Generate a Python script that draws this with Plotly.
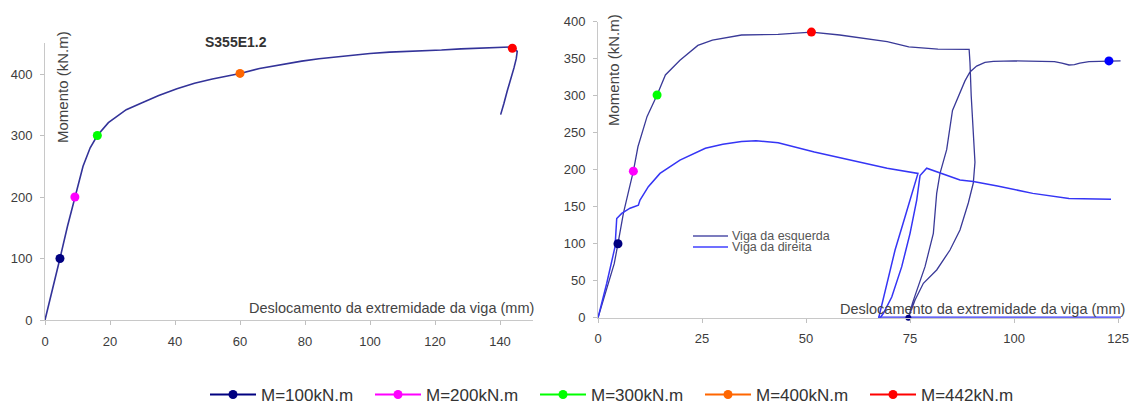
import plotly.graph_objects as go

W, H = 1131, 413
FONT = "Liberation Sans, Arial, sans-serif"

# ---------------- data ----------------
# Left chart: S355E1.2
left_x = [0, 2.3, 4.6, 6.9, 9.2, 11.7, 13.9, 16.1, 19.5, 22.0, 25.0, 29.7, 35.0, 40.6,
          46.0, 51.5, 56.0, 60.0, 66.0, 73.4, 79.0, 84.3, 90.0, 95.2, 100.0, 106.0,
          112.0, 117.0, 122.0, 128.0, 134.0, 139.0, 143.8, 145.3, 145.0, 144.3, 143.3,
          142.2, 141.2, 140.2]
left_y = [0, 48, 100, 152, 200, 250, 280, 300, 321, 331, 342, 353, 365, 376,
          385, 392, 397, 401, 409, 416, 421, 425, 428.5, 431, 433.5, 435.6,
          436.5, 437.7, 439, 441, 442, 443, 444, 437, 425, 410, 393,
          372, 352, 334]

# Right chart: Viga da esquerda
re_x = [0, 2.2, 3.9, 4.8, 6.1, 7.4, 8.5, 9.6, 11.8, 14.2, 16.2, 19.7, 24.0, 27.5, 34.5,
        43.3, 51.3, 58.1, 63.0, 69.5, 74.7, 81.7, 89.2, 89.4, 89.7, 90.1, 90.6, 90.2,
        89.0, 87.0, 84.6, 81.4, 78.2, 76.2, 74.6, 75.6, 76.6, 78.6, 80.6, 81.4, 82.2,
        83.8, 85.2, 87.0, 88.2, 89.4, 91.0, 93.0, 95.0, 100.0, 104.5, 109.7, 111.5,
        113.2, 114.5, 115.8, 118.0, 122.8, 125.6]
re_y = [0, 42, 73, 100, 141, 172, 198, 231, 272, 301, 328, 348, 368, 375, 382,
        383, 386, 382, 378, 373, 366, 363, 362.6, 345, 300, 250, 210, 182,
        155, 118.5, 91.5, 64.5, 46.5, 24, 0, 20, 37, 69, 114, 168, 195,
        227, 280, 305, 320, 332, 340, 345, 346.5, 347, 347, 346, 344,
        341.5, 342, 344, 346, 347, 347]

# Right chart: Viga da direita
rd_x = [0, 2.1, 4.1, 4.5, 5.7, 7.7, 9.7, 10.1, 12.1, 14.9, 19.7, 25.8, 30.0, 34.5, 38.0,
        43.3, 52.0, 60.8, 69.5, 76.9, 75.4, 73.8, 71.4, 69.4, 67.4, 67.3, 68.6, 70.6,
        73.0, 75.0, 76.6, 77.4, 79.0, 82.4, 87.0, 90.2, 96.0, 104.5, 113.2, 123.3]
rd_y = [0, 46.5, 96, 134, 141, 148, 152, 159, 177, 195, 213, 229, 234.5, 238, 239,
        236.5, 224, 213, 202, 195, 168, 136.5, 91.5, 46.5, 1.4, -4, 6, 28,
        69, 114, 159, 192, 202, 195, 186, 184, 178, 168, 161, 160]
rd_base_x = [67.3, 125.8]
rd_base_y = [0, 0]

# Highlighted moments
m_labels = ["M=100kN.m", "M=200kN.m", "M=300kN.m", "M=400kN.m", "M=442kN.m"]
m_colors = ["#000080", "#ff00ff", "#00ff00", "#ff6600", "#ff0000"]
left_mx = [4.6, 9.2, 16.1, 60.0, 143.8]
left_my = [100, 200, 300, 401, 442]
right_mx = [4.8, 8.5, 14.2, None, 51.3]
right_my = [100, 198, 301, None, 386]
extra_x = [122.8]
extra_y = [347]
end_x = [74.6, 67.3]
end_y = [0, -3]
end_colors = ["#000080", "#2020ff"]

left_xticks = [0, 20, 40, 60, 80, 100, 120, 140]
left_yticks = [0, 100, 200, 300, 400]
right_xticks = [0, 25, 50, 75, 100, 125]
right_yticks = [0, 50, 100, 150, 200, 250, 300, 350, 400]

series_names = ["Viga da esquerda", "Viga da direita"]
left_title = "S355E1.2"
y_title = "Momento (kN.m)"
x_title = "Deslocamento da extremidade da viga (mm)"

# ---------------- figure ----------------
def PX(x):
    return x / W

def PY(y):
    return 1 - y / H

C_LEFT = "#333399"
C_ESQ = "#3a3a98"
C_DIR = "#3535f5"

fig = go.Figure()

fig.add_trace(go.Scatter(x=left_x, y=left_y, mode="lines", line=dict(color=C_LEFT, width=1.6),
                         showlegend=False, xaxis="x", yaxis="y", hoverinfo="skip"))

fig.add_trace(go.Scatter(x=re_x, y=re_y, mode="lines", line=dict(color=C_ESQ, width=1.3),
                         showlegend=False, xaxis="x2", yaxis="y2", hoverinfo="skip"))
fig.add_trace(go.Scatter(x=rd_x, y=rd_y, mode="lines", line=dict(color=C_DIR, width=1.5),
                         showlegend=False, xaxis="x2", yaxis="y2", cliponaxis=False, hoverinfo="skip"))
fig.add_trace(go.Scatter(x=rd_base_x, y=rd_base_y, mode="lines", line=dict(color=C_DIR, width=2.6),
                         showlegend=False, xaxis="x2", yaxis="y2", cliponaxis=False, hoverinfo="skip"))
fig.add_trace(go.Scatter(x=end_x, y=end_y, mode="markers",
                         marker=dict(color=end_colors, size=6),
                         showlegend=False, xaxis="x2", yaxis="y2", cliponaxis=False, hoverinfo="skip"))

for i, lab in enumerate(m_labels):
    fig.add_trace(go.Scatter(x=[left_mx[i]], y=[left_my[i]], mode="lines+markers", name=lab,
                             line=dict(color=m_colors[i], width=2),
                             marker=dict(color=m_colors[i], size=9),
                             xaxis="x", yaxis="y", cliponaxis=False, hoverinfo="skip"))
    if right_mx[i] is not None:
        fig.add_trace(go.Scatter(x=[right_mx[i]], y=[right_my[i]], mode="markers",
                                 marker=dict(color=m_colors[i], size=9), showlegend=False,
                                 xaxis="x2", yaxis="y2", cliponaxis=False, hoverinfo="skip"))

fig.add_trace(go.Scatter(x=extra_x, y=extra_y, mode="markers", marker=dict(color="#0000ff", size=9),
                         showlegend=False, xaxis="x2", yaxis="y2", cliponaxis=False, hoverinfo="skip"))

axis_common = dict(showline=True, linecolor="#c8c8c8", linewidth=1, showgrid=False, zeroline=False,
                   ticks="outside", ticklen=4, tickcolor="#c0c0c0",
                   tickfont=dict(family=FONT, size=13, color="#3c3c3c"), automargin=False,
                   fixedrange=True)
xstand = dict(ticklabelstandoff=5)
ystand = dict(ticklabelstandoff=5)

fig.update_layout(
    width=W, height=H, margin=dict(l=0, r=0, t=0, b=0),
    paper_bgcolor="white", plot_bgcolor="white",
    xaxis=dict(domain=[PX(45), PX(532.5)], range=[0, 150], tickvals=left_xticks, anchor="y",
               **axis_common, **xstand),
    yaxis=dict(domain=[PY(320), PY(43.3)], range=[0, 450], tickvals=left_yticks, anchor="x",
               **axis_common, **ystand),
    xaxis2=dict(domain=[PX(598), PX(1121)], range=[0, 125.7], tickvals=right_xticks, anchor="y2",
                **axis_common, **xstand),
    yaxis2=dict(domain=[PY(317.7), PY(21.7)], range=[0, 400], tickvals=right_yticks, anchor="x2",
                **axis_common, **ystand),
    legend=dict(orientation="h", x=PX(205), y=PY(395), xanchor="left", yanchor="middle",
                font=dict(family=FONT, size=17, color="#333333"), itemwidth=46,
                entrywidth=104, entrywidthmode="pixels", bgcolor="rgba(0,0,0,0)",
                traceorder="normal"),
    showlegend=True,
)

ann_font = dict(family=FONT, size=14.5, color="#444444")
annotations = [
    dict(text="<b>%s</b>" % left_title, x=PX(236), y=PY(42), xref="paper", yref="paper",
         showarrow=False, xanchor="center", yanchor="middle",
         font=dict(family=FONT, size=14, color="#333333")),
    dict(text=y_title, x=PX(63), y=PY(87), xref="paper", yref="paper", textangle=-90,
         showarrow=False, xanchor="center", yanchor="middle", font=dict(family=FONT, size=15, color="#444444")),
    dict(text=y_title, x=PX(613), y=PY(70), xref="paper", yref="paper", textangle=-90,
         showarrow=False, xanchor="center", yanchor="middle", font=dict(family=FONT, size=15, color="#444444")),
    dict(text=x_title, x=PX(536), y=PY(308), xref="paper", yref="paper",
         showarrow=False, xanchor="right", yanchor="middle", font=ann_font),
    dict(text=x_title, x=PX(1127), y=PY(309), xref="paper", yref="paper",
         showarrow=False, xanchor="right", yanchor="middle", font=ann_font),
]
leg_rows = [236, 247]
leg_cols = ["#5050a8", "#4040ff"]
shapes = []
for name, row, col in zip(series_names, leg_rows, leg_cols):
    annotations.append(dict(text=name, x=PX(730), y=PY(row), xref="paper", yref="paper",
                            showarrow=False, xanchor="left", yanchor="middle",
                            font=dict(family=FONT, size=12.5, color="#555555")))
    shapes.append(dict(type="line", xref="paper", yref="paper", x0=PX(693), x1=PX(728),
                       y0=PY(row), y1=PY(row), line=dict(color=col, width=1.5)))
fig.update_layout(annotations=annotations, shapes=shapes)

page_fix = (
    "var s=document.createElement('style');"
    "s.textContent='html,body{margin:0;padding:0;overflow:hidden;}';"
    "document.head.appendChild(s);"
)
fig.write_html("out.html", config={"displayModeBar": False}, post_script=page_fix)
